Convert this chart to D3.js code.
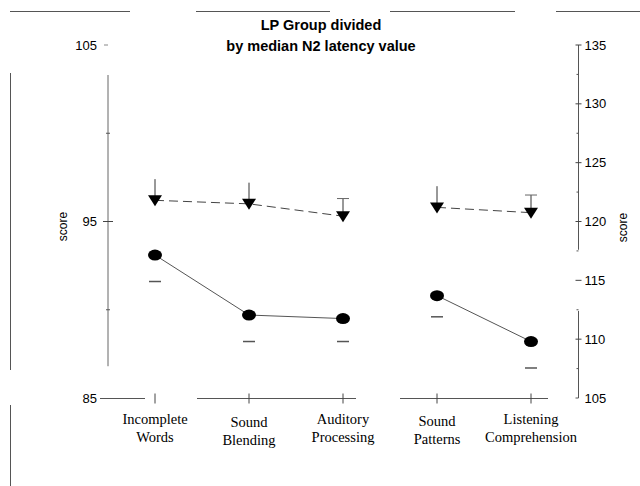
<!DOCTYPE html>
<html><head><meta charset="utf-8">
<script src="https://cdn.jsdelivr.net/npm/d3@7"></script>
<style>body{margin:0;background:#fff}svg{display:block}</style>
</head><body>
<svg id="c" width="640" height="486"></svg>
<script>
const categories = ["Incomplete Words","Sound Blending","Auditory Processing","Sound Patterns","Listening Comprehension"];
const labelLines = [["Incomplete","Words"],["Sound","Blending"],["Auditory","Processing"],["Sound","Patterns"],["Listening","Comprehension"]];
const triMeans  = [96.2, 96.0, 95.3, 95.8, 95.5];
const triUpper  = [97.4, 97.2, 96.3, 97.0, 96.5];
const circMeans = [93.1, 89.7, 89.5, 90.8, 88.2];
const circLower = [91.6, 88.2, 88.2, 89.6, 86.7];
const segments  = [[0,1,2],[3,4]];
const leftTicks = [85, 95, 105];
const leftMinor = [90, 100];
const rightTicks = [105,110,115,120,125,130,135];
const rightMinor = [107.5,112.5,117.5,122.5,127.5,132.5];
const titleLines = ["LP Group divided","by median N2 latency value"];

const svg = d3.select("#c");
const x = d3.scalePoint().domain(categories).range([155, 531]);
const yL = d3.scaleLinear().domain([85, 105]).range([398, 45]);
const yR = d3.scaleLinear().domain([105, 135]).range([398, 45]);
const sans = "Liberation Sans, Arial, sans-serif";
const serif = "Liberation Serif, Times New Roman, serif";

// frame remnants
const frame = svg.append("g").attr("stroke", "#555").attr("stroke-width", 1);
[[10,130],[196,330],[390,515],[556,640]].forEach(s =>
  frame.append("line").attr("x1", s[0]).attr("x2", s[1]).attr("y1", 11.5).attr("y2", 11.5));
[[73,370],[405,486]].forEach(s =>
  frame.append("line").attr("x1", 10.5).attr("x2", 10.5).attr("y1", s[0]).attr("y2", s[1]));

// title
svg.append("g").selectAll("text").data(titleLines).join("text")
  .attr("x", 321).attr("y", (d, i) => 30 + i * 21)
  .attr("text-anchor", "middle").attr("font-family", sans)
  .attr("font-weight", "bold").attr("font-size", 14.5).text(d => d);

// left axis
const gL = svg.append("g").attr("transform", "translate(108,0)");
gL.append("line").attr("y1", yL(103.3)).attr("y2", yL(86.8)).attr("stroke", "#666");
gL.selectAll(".mj").data(leftTicks.filter(v => v === 95)).join("line")
  .attr("x1", -5).attr("x2", 5).attr("y1", d => yL(d)).attr("y2", d => yL(d)).attr("stroke", "#444");
gL.selectAll(".mn").data(leftMinor).join("line")
  .attr("x1", -2).attr("x2", 2).attr("y1", d => yL(d)).attr("y2", d => yL(d)).attr("stroke", "#555");
gL.append("line").attr("x1", -4).attr("x2", 0).attr("y1", yL(105)).attr("y2", yL(105)).attr("stroke", "#888");
gL.selectAll("text").data(leftTicks).join("text")
  .attr("x", -11).attr("y", d => yL(d)).attr("dy", "0.35em").attr("text-anchor", "end")
  .attr("font-family", sans).attr("font-size", 13).text(d => d);
svg.append("text").attr("transform", `translate(67,${yL(95)+5}) rotate(-90)`)
  .attr("text-anchor", "middle").attr("font-family", sans).attr("font-size", 12).text("score");

// right axis
const gR = svg.append("g").attr("transform", "translate(578.5,0)");
[[135,117.6],[112.4,105]].forEach(s =>
  gR.append("line").attr("y1", yR(s[0])).attr("y2", yR(s[1])).attr("stroke", "#555"));
gR.selectAll(".mj").data(rightTicks.filter(v => v !== 105)).join("line")
  .attr("x1", -3).attr("x2", 3).attr("y1", d => yR(d)).attr("y2", d => yR(d)).attr("stroke", "#444");
gR.append("line").attr("x1", -3).attr("x2", 0).attr("y1", yR(105)).attr("y2", yR(105)).attr("stroke", "#555");
gR.selectAll(".mn").data(rightMinor).join("line")
  .attr("x1", -2).attr("x2", 0).attr("y1", d => yR(d)).attr("y2", d => yR(d)).attr("stroke", "#555");
gR.selectAll("text").data(rightTicks).join("text")
  .attr("x", 6).attr("y", d => yR(d)).attr("dy", "0.35em")
  .attr("font-family", sans).attr("font-size", 13).text(d => d);
svg.append("text").attr("transform", `translate(627,${yR(120)+6}) rotate(-90)`)
  .attr("text-anchor", "middle").attr("font-family", sans).attr("font-size", 12).text("score");

// bottom axis
const gB = svg.append("g").attr("transform", `translate(0,${yL(85)+0.5})`);
[[100,145],[197,356],[400,548]].forEach(s =>
  gB.append("line").attr("x1", s[0]).attr("x2", s[1]).attr("stroke", "#555"));
gB.selectAll(".tk").data(categories).join("line")
  .attr("x1", d => x(d)).attr("x2", d => x(d)).attr("y1", -5).attr("y2", 5).attr("stroke", "#444");
const lab = gB.selectAll(".lb").data(categories).join("text")
  .attr("text-anchor", "middle").attr("font-family", serif).attr("font-size", 14.5)
  .attr("transform", (d, i) => `translate(${x(d)},${(i === 1 ? 28 : i === 3 ? 27 : 25)})`);
lab.selectAll("tspan").data((d, i) => labelLines[i]).join("tspan")
  .attr("x", 0).attr("dy", (d, j) => j ? 18 : 0).text(d => d);

// series lines
const lineT = d3.line().x(i => x(categories[i])).y(i => yL(triMeans[i]));
const lineC = d3.line().x(i => x(categories[i])).y(i => yL(circMeans[i]));
svg.append("g").selectAll("path").data(segments).join("path")
  .attr("d", lineT).attr("fill", "none").attr("stroke", "#444").attr("stroke-dasharray", "9,5");
svg.append("g").selectAll("path").data(segments).join("path")
  .attr("d", lineC).attr("fill", "none").attr("stroke", "#555");

// error bars
const eT = svg.append("g").attr("stroke", "#333");
categories.forEach((c, i) => {
  eT.append("line").attr("x1", x(c)).attr("x2", x(c)).attr("y1", yL(triMeans[i]) - 4).attr("y2", yL(triUpper[i]));
  if (i === 2 || i === 4)
    eT.append("line").attr("x1", x(c) - 6).attr("x2", x(c) + 6).attr("y1", yL(triUpper[i])).attr("y2", yL(triUpper[i])).attr("stroke", "#666");
});
svg.append("g").selectAll("line").data(categories).join("line")
  .attr("x1", d => x(d) - 6).attr("x2", d => x(d) + 6)
  .attr("y1", (d, i) => yL(circLower[i])).attr("y2", (d, i) => yL(circLower[i]))
  .attr("stroke", "#555").attr("stroke-width", 1.5);

// markers
svg.append("g").selectAll("path").data(categories).join("path")
  .attr("transform", (d, i) => `translate(${x(d)},${yL(triMeans[i])})`)
  .attr("d", "M-7,-5L7,-5L0,6Z").attr("fill", "#000");
svg.append("g").selectAll("ellipse").data(categories).join("ellipse")
  .attr("cx", d => x(d)).attr("cy", (d, i) => yL(circMeans[i]))
  .attr("rx", 7).attr("ry", 5.5).attr("fill", "#000");
</script>
</body></html>
